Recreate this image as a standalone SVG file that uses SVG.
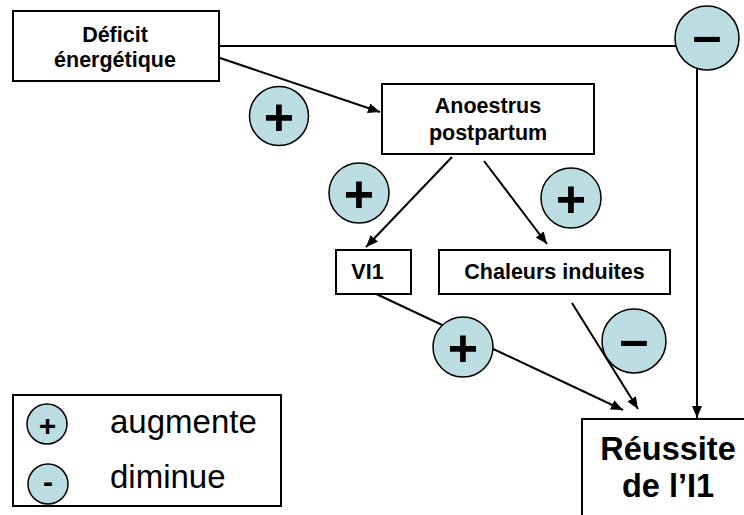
<svg xmlns="http://www.w3.org/2000/svg" width="744" height="515" viewBox="0 0 744 515">
<style>
.box{fill:#fff;stroke:#000;stroke-width:2}
.lbl{font-family:"Liberation Sans",Arial,sans-serif;font-weight:bold;font-size:21.5px;text-anchor:middle;fill:#000}
.big{font-family:"Liberation Sans",Arial,sans-serif;font-weight:bold;font-size:32.5px;text-anchor:middle;fill:#000}
.sig{fill:#bcdde1;stroke:#000;stroke-width:1.5}
.sym{font-family:"Liberation Sans",Arial,sans-serif;font-weight:bold;font-size:52px;text-anchor:middle;fill:#000}
.leg{font-family:"Liberation Sans",Arial,sans-serif;font-size:33px;fill:#000}
.lsym{font-family:"Liberation Sans",Arial,sans-serif;font-weight:bold;font-size:30px;text-anchor:middle;fill:#000}
.con{fill:none;stroke:#000;stroke-width:2}
</style>
<defs>
<marker id="ah" markerUnits="userSpaceOnUse" markerWidth="13" markerHeight="11" refX="12" refY="5" orient="auto">
<path d="M0,0 L12,5 L0,10 z" fill="#000"/>
</marker>
</defs>
<g id="connectors">
<path class="con" d="M219,46 H676"/>
<path class="con" d="M697,69 V418" marker-end="url(#ah)"/>
<path class="con" d="M217,57 L380,112" marker-end="url(#ah)"/>
<path class="con" d="M452,157 L366,247" marker-end="url(#ah)"/>
<path class="con" d="M484,161 L547,244" marker-end="url(#ah)"/>
<path class="con" d="M372,292 L623,410" marker-end="url(#ah)"/>
<path class="con" d="M572,303 L638,409" marker-end="url(#ah)"/>
</g>
<g id="deficit">
<rect class="box" x="13" y="11" width="206" height="70"/>
<text class="lbl" x="115" y="42">Déficit</text>
<text class="lbl" x="115" y="67">énergétique</text>
</g>
<g id="anoestrus">
<rect class="box" x="382" y="84" width="212" height="70"/>
<text class="lbl" x="488" y="113">Anoestrus</text>
<text class="lbl" x="488" y="140">postpartum</text>
</g>
<g id="vi1">
<rect class="box" x="336" y="250" width="75" height="44"/>
<text class="lbl" x="367.5" y="279">VI1</text>
</g>
<g id="chaleurs">
<rect class="box" x="439" y="250" width="231" height="44"/>
<text class="lbl" x="554.5" y="279">Chaleurs induites</text>
</g>
<g id="reussite">
<rect class="box" x="582" y="419" width="200" height="120"/>
<text class="big" x="668" y="460">Réussite</text>
<text class="big" x="668" y="497">de l’I1</text>
</g>
<g id="sign-deficit-reussite">
<circle class="sig" cx="707" cy="38" r="32"/>
<text class="sym" x="707" y="53">–</text>
</g>
<g id="sign-deficit-anoestrus">
<circle class="sig" cx="279" cy="116" r="29.5"/>
<text class="sym" x="279" y="135">+</text>
</g>
<g id="sign-anoestrus-vi1">
<circle class="sig" cx="359" cy="193" r="30"/>
<text class="sym" x="359" y="212">+</text>
</g>
<g id="sign-anoestrus-chaleurs">
<circle class="sig" cx="571" cy="198" r="30"/>
<text class="sym" x="571" y="217">+</text>
</g>
<g id="sign-vi1-reussite">
<circle class="sig" cx="463" cy="347" r="30"/>
<text class="sym" x="463" y="366">+</text>
</g>
<g id="sign-chaleurs-reussite">
<circle class="sig" cx="634" cy="341" r="32"/>
<text class="sym" x="634" y="357">–</text>
</g>
<g id="legend">
<rect class="box" x="13" y="395" width="268" height="111"/>
<circle class="sig" cx="47" cy="424" r="20"/>
<text class="lsym" x="47.5" y="436">+</text>
<circle class="sig" cx="48" cy="484" r="20"/>
<text class="lsym" x="48" y="492">-</text>
<text class="leg" x="110" y="433">augmente</text>
<text class="leg" x="110" y="488">diminue</text>
</g>
</svg>
